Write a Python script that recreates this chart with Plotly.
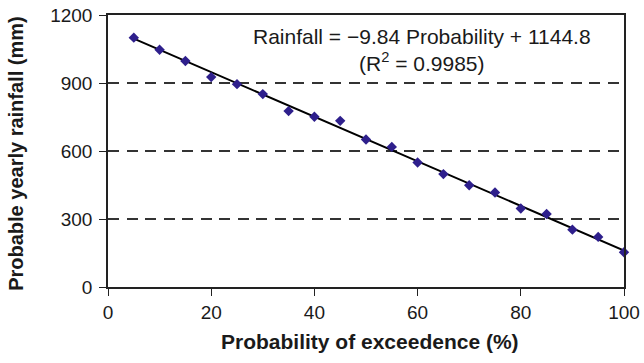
import plotly.graph_objects as go

probability = [5, 10, 15, 20, 25, 30, 35, 40, 45, 50, 55, 60, 65, 70, 75, 80, 85, 90, 95, 100]
rainfall = [1100, 1047, 997, 926, 895, 851, 776, 751, 733, 651, 618, 549, 498, 449, 417, 346, 322, 253, 221, 153]
slope = -9.84
intercept = 1144.8
r2 = 0.9985
x_ticks = [0, 20, 40, 60, 80, 100]
y_ticks = [0, 300, 600, 900, 1200]

trend_x = [probability[0], probability[-1]]
trend_y = [slope * v + intercept for v in trend_x]

FONT = "Liberation Sans, Arial, Helvetica, sans-serif"
TXT = "#1a1a1a"

fig = go.Figure()
fig.add_trace(go.Scatter(x=trend_x, y=trend_y, mode="lines",
                         line=dict(color="black", width=2), showlegend=False,
                         cliponaxis=False))
fig.add_trace(go.Scatter(x=probability, y=rainfall, mode="markers",
                         marker=dict(symbol="diamond", size=8, color="#2e1f8c"),
                         showlegend=False, cliponaxis=False))

fig.add_annotation(xref="paper", yref="paper", x=0.608, y=0.873,
                   text=f"Rainfall = \u2212{abs(slope):.2f} Probability + {intercept}<br>(R<sup>2</sup> = {r2})",
                   showarrow=False, align="center", xanchor="center", yanchor="middle",
                   font=dict(family=FONT, size=21, color=TXT))

fig.add_annotation(xref="paper", yref="paper", x=0.507, y=-0.202,
                   text="<b>Probability of exceedence (%)</b>", showarrow=False,
                   xanchor="center", yanchor="middle",
                   font=dict(family=FONT, size=21, color=TXT))
fig.add_annotation(xref="paper", yref="paper", x=-0.178, y=0.49,
                   text="<b>Probable yearly rainfall (mm)</b>", showarrow=False,
                   textangle=-90, xanchor="center", yanchor="middle",
                   font=dict(family=FONT, size=20, color=TXT))

fig.update_layout(
    width=644, height=363,
    margin=dict(l=108, r=20, t=15, b=76),
    plot_bgcolor="white", paper_bgcolor="white",
    font=dict(family=FONT, size=19, color=TXT),
    xaxis=dict(range=[0, 100], tickvals=x_ticks, showgrid=False, zeroline=False,
               showline=True, linecolor="#222", linewidth=1.5, mirror=True,
               ticks="outside", ticklen=7, tickcolor="#222", automargin=False,
               tickfont=dict(size=19)),
    yaxis=dict(range=[0, 1200], tickvals=y_ticks, showgrid=True,
               gridcolor="#333", griddash="11px,7.5px", gridwidth=1.5, zeroline=False,
               showline=True, linecolor="#222", linewidth=1.5, mirror=True,
               ticks="outside", ticklen=7, tickcolor="#222", automargin=False,
               tickfont=dict(size=19), ticklabelstandoff=3),
)

fig.write_html("out.html", config={"displayModeBar": False},
               post_script="document.body.style.margin='0';")
